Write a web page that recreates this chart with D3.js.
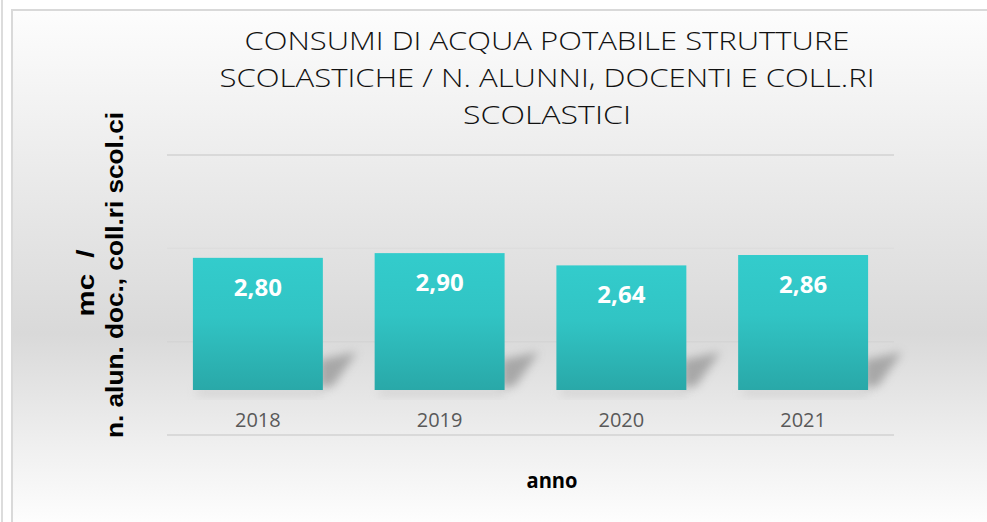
<!DOCTYPE html>
<html lang="it">
<head>
    <meta charset="UTF-8"/>
    <title>Consumi di acqua potabile</title>
    <script src="https://d3js.org/d3.v7.min.js"></script>
    <style>
        body { margin: 0; background: #ffffff; }
        svg { display: block; }
        .year { font-family: "Open Sans", sans-serif; font-size: 20px; fill: #595959; }
        .value { font-family: "Open Sans", sans-serif; font-size: 24px; font-weight: 700; fill: #ffffff; }
        .title { font-family: "Open Sans", sans-serif; font-size: 26px; font-weight: 300; fill: #111111; }
        .axis-title { font-family: "Liberation Sans", Arial, sans-serif; font-size: 23px; font-weight: 700; fill: #000000; white-space: pre; }
        .x-title { font-family: "Open Sans", sans-serif; font-size: 22px; font-weight: 700; fill: #000000; }
    </style>
</head>
<body>
    <script>
        var w = 987;
        var h = 522;

        // data
        var years = ["2018", "2019", "2020", "2021"];
        var values = [2.80, 2.90, 2.64, 2.86];
        var gridTicks = [0, 2, 4, 6];
        var titleLines = [
            "CONSUMI DI ACQUA POTABILE STRUTTURE",
            "SCOLASTICHE / N. ALUNNI, DOCENTI E COLL.RI",
            "SCOLASTICI"
        ];
        var titleWidths = [605, 655, 168];
        var yTitleLines = ["mc  /", "n. alun. doc., coll.ri scol.ci"];
        var yTitleWidths = [67, 326];

        var fmt = d3.formatLocale({decimal: ",", thousands: ".", grouping: [3], currency: ["", "€"]}).format(".2f");

        var svg = d3.select("body").append("svg")
            .attr("width", w)
            .attr("height", h);

        var defs = svg.append("defs");

        var bg = defs.append("linearGradient")
            .attr("id", "bg")
            .attr("x1", 0).attr("y1", 0).attr("x2", 0).attr("y2", 1);
        bg.append("stop").attr("offset", "0%").attr("stop-color", "#fdfdfd");
        bg.append("stop").attr("offset", "22%").attr("stop-color", "#f0f0f0");
        bg.append("stop").attr("offset", "62%").attr("stop-color", "#d9d9d9");
        bg.append("stop").attr("offset", "83%").attr("stop-color", "#efefef");
        bg.append("stop").attr("offset", "100%").attr("stop-color", "#ffffff");

        var barGrad = defs.append("linearGradient")
            .attr("id", "barGrad")
            .attr("x1", 0).attr("y1", 0).attr("x2", 0).attr("y2", 1);
        barGrad.append("stop").attr("offset", "0%").attr("stop-color", "#33cccc");
        barGrad.append("stop").attr("offset", "45%").attr("stop-color", "#31c4c4");
        barGrad.append("stop").attr("offset", "100%").attr("stop-color", "#29a8a8");

        defs.append("filter")
            .attr("id", "blur")
            .attr("x", "-50%").attr("y", "-50%").attr("width", "200%").attr("height", "200%")
            .append("feGaussianBlur").attr("stdDeviation", 5);

        // outer cell edge and chart frame
        svg.append("line")
            .attr("x1", 2).attr("x2", 2).attr("y1", 0).attr("y2", h)
            .attr("stroke", "#dcdcdc").attr("stroke-width", 2);
        svg.append("rect")
            .attr("x", 12).attr("y", 10)
            .attr("width", w).attr("height", h)
            .attr("fill", "url(#bg)")
            .attr("stroke", "#d9d9d9").attr("stroke-width", 2);

        // scales: back wall for gridlines, front for bars
        var xScale = d3.scaleBand()
            .domain(years)
            .range([167, 894])
            .paddingInner(0.285)
            .paddingOuter(0.1425);

        var yWall = d3.scaleLinear().domain([0, 6]).range([435, 155]);
        var yBar = d3.scaleLinear().domain([0, 6]).range([390, 390 - 6 * 47.2]);

        // gridlines
        svg.append("g").selectAll("line")
            .data(gridTicks)
            .enter().append("line")
            .attr("x1", 167).attr("x2", 894)
            .attr("y1", function(d) { return yWall(d); })
            .attr("y2", function(d) { return yWall(d); })
            .style("stroke", function(d) { return (d === 0 || d === 6) ? "#d9d9d9" : "#d0d0d0"; })
            .style("stroke-width", function(d) { return (d === 0 || d === 6) ? 2 : 1.5; })
            .style("opacity", function(d) { return d === 4 ? 0.25 : (d === 2 ? 0.5 : 1); });

        // shadows
        svg.append("g").selectAll("path")
            .data(values)
            .enter().append("path")
            .attr("d", function(d, i) {
                var r = xScale(years[i]) + xScale.bandwidth();
                var b = yBar(0);
                return "M" + (r - 4) + "," + (b - 30) +
                       "L" + (r + 34) + "," + (b - 38) +
                       "L" + (r + 10) + "," + (b - 4) +
                       "L" + (r - 4) + "," + (b - 2) + "Z";
            })
            .attr("fill", "#8f8f8f")
            .attr("opacity", 0.7)
            .attr("filter", "url(#blur)");

        svg.append("g").selectAll("rect")
            .data(values)
            .enter().append("rect")
            .attr("x", function(d, i) { return xScale(years[i]) + 4; })
            .attr("y", yBar(0) - 2)
            .attr("width", xScale.bandwidth() - 4)
            .attr("height", 8)
            .attr("fill", "#c8c8c8")
            .attr("opacity", 0.6)
            .attr("filter", "url(#blur)");

        // bars
        svg.append("g").selectAll("rect")
            .data(values)
            .enter().append("rect")
            .attr("x", function(d, i) { return xScale(years[i]); })
            .attr("y", function(d) { return yBar(d); })
            .attr("width", xScale.bandwidth())
            .attr("height", function(d) { return yBar(0) - yBar(d); })
            .attr("fill", "url(#barGrad)");

        // value labels
        svg.append("g").selectAll("text")
            .data(values)
            .enter().append("text")
            .attr("class", "value")
            .attr("x", function(d, i) { return xScale(years[i]) + xScale.bandwidth() / 2; })
            .attr("y", function(d) { return yBar(d) + 38; })
            .attr("text-anchor", "middle")
            .text(function(d) { return fmt(d); });

        // category labels
        svg.append("g").selectAll("text")
            .data(years)
            .enter().append("text")
            .attr("class", "year")
            .attr("x", function(d) { return xScale(d) + xScale.bandwidth() / 2; })
            .attr("y", 427)
            .attr("text-anchor", "middle")
            .text(function(d) { return d; });

        // title
        svg.append("g").selectAll("text")
            .data(titleLines)
            .enter().append("text")
            .attr("class", "title")
            .attr("x", 547)
            .attr("y", function(d, i) { return 50 + i * 37; })
            .attr("text-anchor", "middle")
            .attr("textLength", function(d, i) { return titleWidths[i]; })
            .attr("lengthAdjust", "spacingAndGlyphs")
            .text(function(d) { return d; });

        // y axis title
        svg.append("g").selectAll("text")
            .data(yTitleLines)
            .enter().append("text")
            .attr("class", "axis-title")
            .attr("transform", function(d, i) {
                return "translate(" + (i === 0 ? 86 : 115) + "," + (i === 0 ? 283 : 275) + ") rotate(-90)";
            })
            .attr("dy", "0.35em")
            .attr("text-anchor", "middle")
            .attr("textLength", function(d, i) { return yTitleWidths[i]; })
            .attr("lengthAdjust", "spacingAndGlyphs")
            .text(function(d) { return d; });

        // x axis title
        svg.append("text")
            .attr("class", "x-title")
            .attr("x", 552)
            .attr("y", 488)
            .attr("text-anchor", "middle")
            .attr("textLength", 51)
            .attr("lengthAdjust", "spacingAndGlyphs")
            .text("anno");
    </script>
</body>
</html>
